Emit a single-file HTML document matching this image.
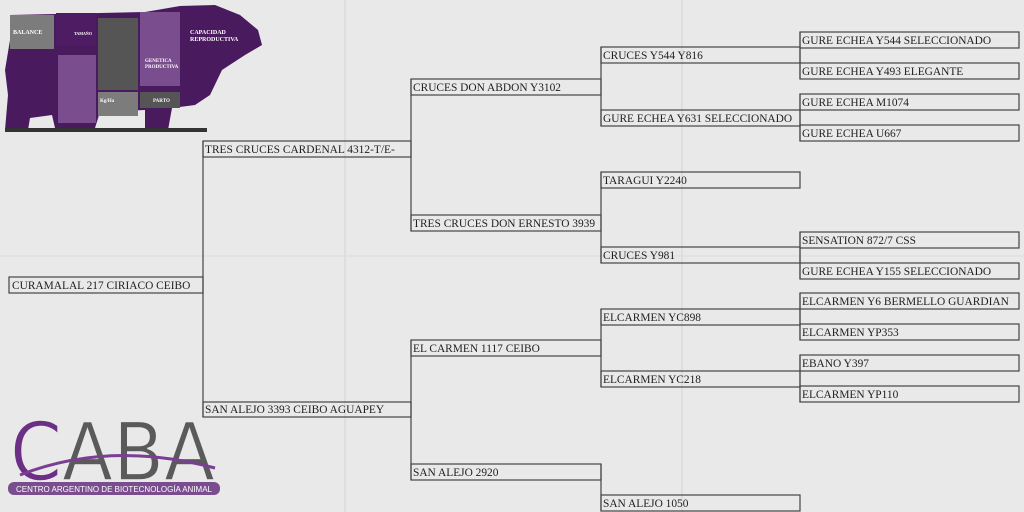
<!DOCTYPE html>
<html><head><meta charset="utf-8"><style>
html,body{margin:0;padding:0;width:1024px;height:512px;overflow:hidden;background:#e9e9e9;}
svg{display:block}
.t{font-family:"Liberation Serif",serif;font-size:11.4px;fill:#1e1e1e;}
.b{fill:none;stroke:#444;stroke-width:1.2}
</style></head><body>
<svg width="1024" height="512" viewBox="0 0 1024 512" xmlns="http://www.w3.org/2000/svg">
<rect width="1024" height="512" fill="#e9e9e9"/>
<line x1="345" y1="0" x2="345" y2="512" stroke="#d2d2d2"/>
<line x1="682" y1="0" x2="682" y2="512" stroke="#d2d2d2"/>
<line x1="0" y1="256" x2="1024" y2="256" stroke="#dcdcdc"/>
<g class="b">
<rect x="9" y="277" width="194" height="16"/>
<rect x="203" y="141" width="208" height="16"/>
<rect x="203" y="402" width="208" height="15"/>
<line x1="203" y1="141" x2="203" y2="417"/>
<rect x="411" y="79" width="190" height="16"/>
<rect x="411" y="215" width="190" height="16"/>
<rect x="411" y="340" width="190" height="16"/>
<rect x="411" y="464" width="190" height="16"/>
<line x1="411" y1="79" x2="411" y2="231"/>
<line x1="411" y1="340" x2="411" y2="480"/>
<rect x="601" y="47" width="199" height="16"/>
<rect x="601" y="110" width="199" height="16"/>
<rect x="601" y="172" width="199" height="16"/>
<rect x="601" y="247" width="199" height="16"/>
<rect x="601" y="309" width="199" height="16"/>
<rect x="601" y="371" width="199" height="16"/>
<rect x="601" y="495" width="199" height="16"/>
<line x1="601" y1="47" x2="601" y2="126"/>
<line x1="601" y1="172" x2="601" y2="263"/>
<line x1="601" y1="309" x2="601" y2="387"/>
<line x1="601" y1="464" x2="601" y2="511"/>
<rect x="800" y="32" width="219" height="16"/>
<rect x="800" y="63" width="219" height="16"/>
<rect x="800" y="94" width="219" height="16"/>
<rect x="800" y="125" width="219" height="16"/>
<rect x="800" y="232" width="219" height="16"/>
<rect x="800" y="263" width="219" height="16"/>
<rect x="800" y="293" width="219" height="16"/>
<rect x="800" y="324" width="219" height="16"/>
<rect x="800" y="355" width="219" height="16"/>
<rect x="800" y="386" width="219" height="16"/>
<line x1="800" y1="32" x2="800" y2="79"/>
<line x1="800" y1="94" x2="800" y2="141"/>
<line x1="800" y1="232" x2="800" y2="279"/>
<line x1="800" y1="293" x2="800" y2="340"/>
<line x1="800" y1="355" x2="800" y2="402"/>
</g>
<g class="t">
<text x="12" y="289">CURAMALAL 217 CIRIACO CEIBO</text>
<text x="205" y="153">TRES CRUCES CARDENAL 4312-T/E-</text>
<text x="205" y="413">SAN ALEJO 3393 CEIBO AGUAPEY</text>
<text x="413" y="91">CRUCES DON ABDON Y3102</text>
<text x="413" y="227">TRES CRUCES DON ERNESTO 3939</text>
<text x="413" y="352">EL CARMEN 1117 CEIBO</text>
<text x="413" y="476">SAN ALEJO 2920</text>
<text x="603" y="59">CRUCES Y544 Y816</text>
<text x="603" y="122">GURE ECHEA Y631 SELECCIONADO</text>
<text x="603" y="184">TARAGUI Y2240</text>
<text x="603" y="259">CRUCES Y981</text>
<text x="603" y="321">ELCARMEN YC898</text>
<text x="603" y="383">ELCARMEN YC218</text>
<text x="603" y="507">SAN ALEJO 1050</text>
<text x="802" y="44">GURE ECHEA Y544 SELECCIONADO</text>
<text x="802" y="75">GURE ECHEA Y493 ELEGANTE</text>
<text x="802" y="106">GURE ECHEA M1074</text>
<text x="802" y="137">GURE ECHEA U667</text>
<text x="802" y="244">SENSATION 872/7 CSS</text>
<text x="802" y="275">GURE ECHEA Y155 SELECCIONADO</text>
<text x="802" y="305">ELCARMEN Y6 BERMELLO GUARDIAN</text>
<text x="802" y="336">ELCARMEN YP353</text>
<text x="802" y="367">EBANO Y397</text>
<text x="802" y="398">ELCARMEN YP110</text>
</g>
<g>
<path d="M145,12 L180,6 L215,5 L240,15 L258,30 L262,45 L245,55 L222,70 L210,95 L195,105 L172,108 L168,130 L145,130 L145,110 L100,112 L95,128 L55,128 L52,115 L30,118 L28,130 L5,130 L8,95 L5,70 L10,40 L10,15 Z" fill="#4a1a5e"/>
<rect x="10" y="15" width="44" height="34" fill="#7c7c7c"/>
<rect x="56" y="13" width="40" height="33" fill="#4e1c63"/>
<rect x="98" y="18" width="40" height="72" fill="#555"/>
<rect x="140" y="12" width="40" height="74" fill="#7a4e8e"/>
<rect x="58" y="55" width="38" height="68" fill="#7a4e8e"/>
<rect x="98" y="92" width="40" height="24" fill="#7c7c7c"/>
<rect x="140" y="92" width="40" height="16" fill="#555"/>
<rect x="5" y="128" width="202" height="4" fill="#333"/>
<g font-family="Liberation Serif,serif" font-size="6" fill="#fff" font-weight="bold">
<text x="13" y="34">BALANCE</text>
<text x="190" y="34">CAPACIDAD</text>
<text x="190" y="41">REPRODUCTIVA</text>
<text x="145" y="62" font-size="5">GENETICA</text>
<text x="145" y="68" font-size="5">PRODUCTIVA</text>
<text x="100" y="102" font-size="5">Kg/Ha</text>
<text x="153" y="102" font-size="5">PARTO</text>
<text x="74" y="35" font-size="4">TAMAÑO</text>
</g>
</g>
<g>
<text x="10" y="480" font-family="DejaVu Sans,sans-serif" font-size="80" fill="#5a5a5a" textLength="205" lengthAdjust="spacingAndGlyphs" stroke="#e9e9e9" stroke-width="1.4"><tspan fill="#6b2f85">C</tspan>ABA</text>
<path d="M20,475 Q110,440 215,468" stroke="#7a3f93" stroke-width="3" fill="none"/>
<rect x="8" y="482" width="212" height="13" rx="6" fill="#7a4e8e"/>
<text x="114" y="492" text-anchor="middle" font-family="Liberation Sans,sans-serif" font-size="8" fill="#fff">CENTRO ARGENTINO DE BIOTECNOLOGÍA ANIMAL</text>
</g>
</svg>
</body></html>
